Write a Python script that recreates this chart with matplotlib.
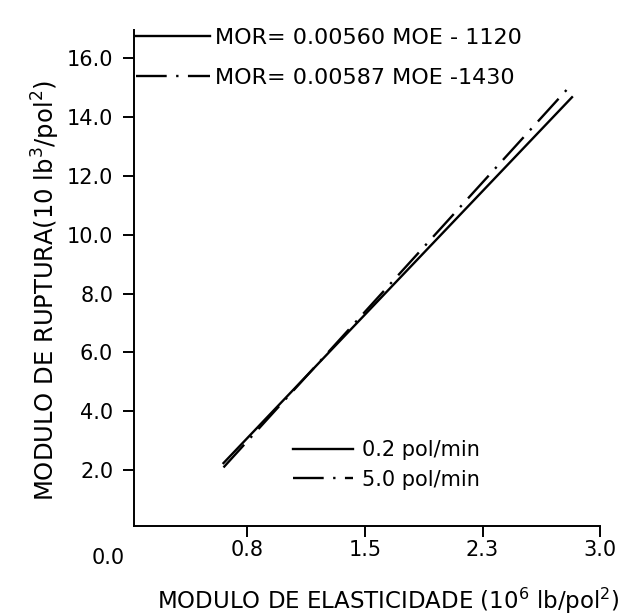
import matplotlib
matplotlib.use("Agg")
import matplotlib.pyplot as plt
import numpy as np

# regression MOR = a * MOE - b  (MOE in lb/pol2, MOR in lb/pol2)
slope = [0.00560, 0.00587]
intercept = [-1120, -1430]
moe_range = [(0.60, 2.82), (0.60, 2.80)]     # 10^6 lb/pol2
eq_labels = ["MOR= 0.00560 MOE - 1120", "MOR= 0.00587 MOE -1430"]
speed_labels = ["0.2 pol/min", "5.0 pol/min"]

x_ticks = [0.75, 1.5, 2.25, 3.0]
x_ticklabels = ["0.8", "1.5", "2.3", "3.0"]
y_ticks = [2, 4, 6, 8, 10, 12, 14, 16]
y_ticklabels = ["2.0", "4.0", "6.0", "8.0", "10.0", "12.0", "14.0", "16.0"]

styles = ["-", (0, (13, 4, 1, 4))]

fig = plt.figure(figsize=(6.33, 6.16), dpi=100)
ax = fig.add_axes([0.2117, 0.146, 0.7366, 0.805])

lines = []
for a, b, (x0, x1), ls in zip(slope, intercept, moe_range, styles):
    moe = np.array([x0, x1])
    mor = (a * moe * 1e6 + b) / 1e3
    ln, = ax.plot(moe, mor, color="black", lw=1.7, linestyle=ls)
    lines.append(ln)

ax.set_xlim(0.03, 3.0)
ax.set_ylim(0.1, 16.95)

for side in ["top", "right"]:
    ax.spines[side].set_visible(False)
for side in ["left", "bottom"]:
    ax.spines[side].set_linewidth(1.4)

ax.set_xticks(x_ticks)
ax.set_xticklabels(x_ticklabels, fontsize=15)
ax.set_yticks(y_ticks)
ax.set_yticklabels(y_ticklabels, fontsize=15)
ax.tick_params(axis="both", direction="out", length=8, width=1.4)
ax.tick_params(axis="y", pad=7)
ax.tick_params(axis="x", pad=2)

ax.annotate("0.0", xy=(0, 0), xycoords="data", xytext=(-15.5, -21),
            textcoords="offset points", ha="center", va="center",
            fontsize=15, annotation_clip=False)

ax.set_xlabel(r"MODULO DE ELASTICIDADE (10$^{6}$ lb/pol$^{2}$)", fontsize=16.5)
ax.xaxis.set_label_coords(0.545, -0.12)
ax.set_ylabel(r"MODULO DE RUPTURA(10 lb$^{3}$/pol$^{2}$)", fontsize=17.5)
ax.yaxis.set_label_coords(-0.155, 0.475)

leg1 = ax.legend(lines, eq_labels, loc="upper left", bbox_to_anchor=(0.005, 1.005),
                 frameon=False, fontsize=16, handlelength=3.3, handletextpad=0.25,
                 labelspacing=0.9, borderpad=0, borderaxespad=0)
ax.add_artist(leg1)
ax.legend(lines, speed_labels, loc="upper left", bbox_to_anchor=(0.34, 0.173),
          frameon=False, fontsize=15, handlelength=2.9, handletextpad=0.45,
          labelspacing=0.45, borderpad=0, borderaxespad=0)

fig.savefig("out.png", dpi=100)
